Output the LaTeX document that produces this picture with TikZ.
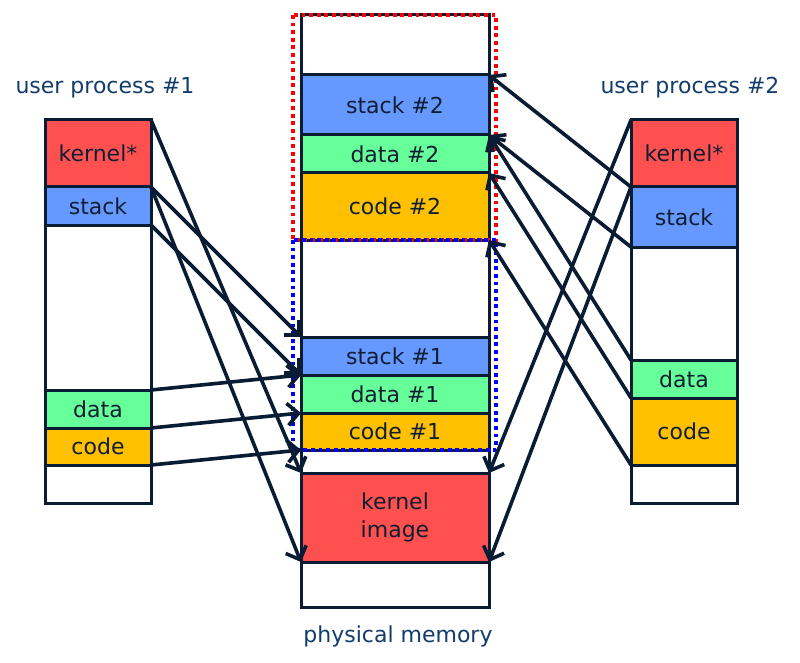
\documentclass[tikz,border=0pt]{standalone}
\usepackage{fontspec}
\setmainfont{DejaVu Sans}
\usetikzlibrary{arrows.meta}
\definecolor{kred}{HTML}{FF5050}
\definecolor{kblue}{HTML}{6699FF}
\definecolor{kgreen}{HTML}{66FF99}
\definecolor{kyellow}{HTML}{FFC000}
\definecolor{edge}{HTML}{0A1C33}
\definecolor{ink}{HTML}{0F1E33}
\definecolor{lab}{HTML}{123C6B}
\definecolor{dotred}{HTML}{FF0000}
\definecolor{dotblue}{HTML}{0000FF}
\tikzset{
  seg/.style={draw=edge, line width=3pt, anchor=north west, inner sep=0pt, outer sep=0pt,
    font=\fontsize{22}{28}\selectfont, text=ink, align=center},
  lw/.style={minimum width=106pt},
  mw/.style={minimum width=188pt},
  conn/.style={draw=edge, line width=3.6pt, line cap=round, -{Straight Barb[length=11pt,width=22pt]}},
  title/.style={font=\fontsize{22}{26}\selectfont, text=lab},
  dotbox/.style={line width=4pt, dash pattern=on 3.8pt off 3.8pt},
}
\begin{document}
\begin{tikzpicture}[x=1pt,y=-1pt]
\useasboundingbox (0,0) rectangle (800,663);
% left process
\node[seg,lw,minimum height=67pt,fill=kred] (lk) at (45,120) {kernel*};
\node[seg,lw,minimum height=38pt,fill=kblue] (ls) at (45,187) {stack};
\node[seg,lw,minimum height=165pt,fill=white] (le1) at (45,225) {};
\node[seg,lw,minimum height=38pt,fill=kgreen] (ld) at (45,390) {data};
\node[seg,lw,minimum height=37pt,fill=kyellow] (lc) at (45,428) {code};
\node[seg,lw,minimum height=38pt,fill=white] (le2) at (45,465) {};
% middle memory
\node[seg,mw,minimum height=60pt,fill=white] (me1) at (301,15) {};
\node[seg,mw,minimum height=60pt,fill=kblue] (ms2) at (301,75) {stack \#2};
\node[seg,mw,minimum height=38pt,fill=kgreen] (md2) at (301,135) {data \#2};
\node[seg,mw,minimum height=67pt,fill=kyellow] (mc2) at (301,173) {code \#2};
\node[seg,mw,minimum height=97pt,fill=white] (me2) at (301,240) {};
\node[seg,mw,minimum height=38pt,fill=kblue] (ms1) at (301,337) {stack \#1};
\node[seg,mw,minimum height=38pt,fill=kgreen] (md1) at (301,375) {data \#1};
\node[seg,mw,minimum height=37pt,fill=kyellow] (mc1) at (301,413) {code \#1};
\node[seg,mw,minimum height=23pt,fill=white] (me3) at (301,450) {};
\node[seg,mw,minimum height=89pt,fill=kred] (mk) at (301,473) {kernel\\image};
\node[seg,mw,minimum height=45pt,fill=white] (me4) at (301,562) {};
% right process
\node[seg,lw,minimum height=67pt,fill=kred] (rk) at (631,120) {kernel*};
\node[seg,lw,minimum height=60pt,fill=kblue] (rs) at (631,187) {stack};
\node[seg,lw,minimum height=113pt,fill=white] (re1) at (631,247) {};
\node[seg,lw,minimum height=38pt,fill=kgreen] (rd) at (631,360) {data};
\node[seg,lw,minimum height=67pt,fill=kyellow] (rc) at (631,398) {code};
\node[seg,lw,minimum height=38pt,fill=white] (re2) at (631,465) {};
% dotted regions
\draw[dotbox,draw=dotred] (293,15) rectangle (496,240);
\draw[dotbox,draw=dotblue] (293,240) rectangle (496,450);
% titles
\node[title] (t1) at (105,88) {user process \#1};
\node[title] (t2) at (690,88) {user process \#2};
\node[title] (t3) at (398,636) {physical memory};
% left arrows
\draw[conn] (lk.north east) -- (mk.north west);
\draw[conn] (lk.south east) -- (mk.south west);
\draw[conn] (ls.north east) -- (ms1.north west);
\draw[conn] (ls.south east) -- (ms1.south west);
\draw[conn] (ld.north east) -- (md1.north west);
\draw[conn] (lc.north east) -- (mc1.north west);
\draw[conn] (lc.south east) -- (mc1.south west);
% right arrows
\draw[conn] (rk.north west) -- (mk.north east);
\draw[conn] (rk.south west) -- (mk.south east);
\draw[conn] (rs.north west) -- (ms2.north east);
\draw[conn] (rs.south west) -- (ms2.south east);
\draw[conn] (rd.north west) -- (md2.north east);
\draw[conn] (rc.north west) -- (mc2.north east);
\draw[conn] (rc.south west) -- (mc2.south east);
\end{tikzpicture}
\end{document}
